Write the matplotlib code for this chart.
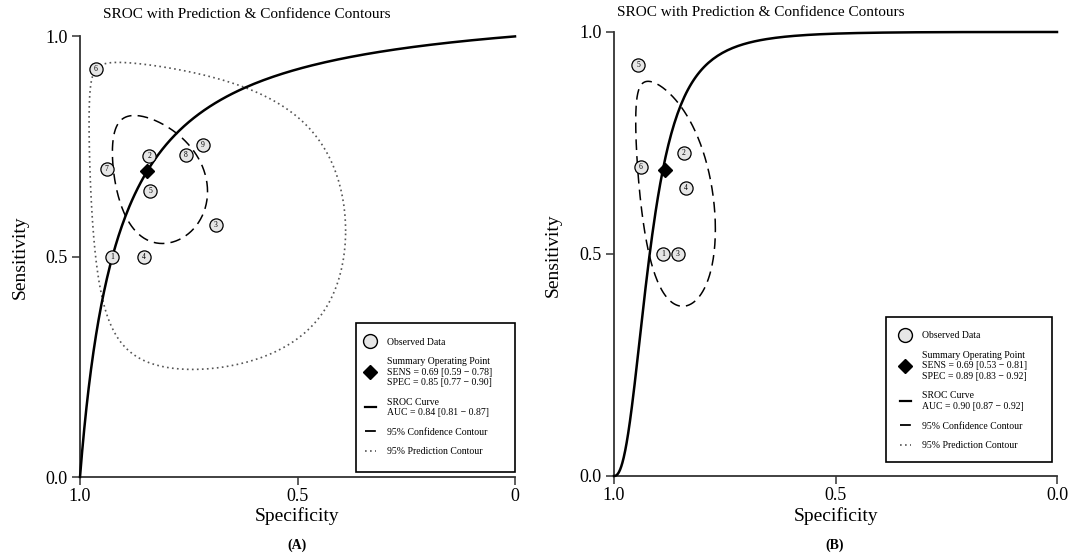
import numpy as np
import matplotlib
matplotlib.use("Agg")
import matplotlib.pyplot as plt
from matplotlib.lines import Line2D
from matplotlib.patches import Rectangle

plt.rcParams["font.family"] = ["Liberation Serif", "DejaVu Serif"]

# ---- Panel A: observed studies (specificity, sensitivity) ----
study_ids_a = [1, 2, 3, 4, 5, 6, 7, 8, 9]
spec_a = [0.926, 0.841, 0.688, 0.853, 0.838, 0.964, 0.939, 0.757, 0.718]
sens_a = [0.500, 0.728, 0.572, 0.500, 0.650, 0.927, 0.699, 0.730, 0.753]
summary_a = (0.845, 0.695)          # spec, sens
sroc_a = (2.52, 1.0)                # logit(sens) = a + b * logit(1 - spec)
center_a = (-1.70, 0.82)            # logit(1 - spec), logit(sens)
conf_half_a = (0.82, 0.70)
pred_half_a = (2.15, 1.95)
rho_a = -0.3
labels_a = [
    "Observed Data",
    "Summary Operating Point\nSENS = 0.69 [0.59 \u2212 0.78]\nSPEC = 0.85 [0.77 \u2212 0.90]",
    "SROC Curve\nAUC = 0.84 [0.81 \u2212 0.87]",
    "95% Confidence Contour",
    "95% Prediction Contour",
]

# ---- Panel B ----
study_ids_b = [1, 2, 3, 4, 5, 6]
spec_b = [0.889, 0.842, 0.856, 0.838, 0.945, 0.939]
sens_b = [0.500, 0.727, 0.500, 0.648, 0.926, 0.697]
summary_b = (0.885, 0.689)
sroc_b = (5.6, 2.3)
center_b = (-2.09, 0.80)
conf_half_b = (0.875, 1.28)
rho_b = -0.45
labels_b = [
    "Observed Data",
    "Summary Operating Point\nSENS = 0.69 [0.53 \u2212 0.81]\nSPEC = 0.89 [0.83 \u2212 0.92]",
    "SROC Curve\nAUC = 0.90 [0.87 \u2212 0.92]",
    "95% Confidence Contour",
    "95% Prediction Contour",
]

x_ticklabels_a = ["1.0", "0.5", "0"]
x_ticklabels_b = ["1.0", "0.5", "0.0"]

SPINE = "#333333"
FILL = "#e6e6e6"


def invlogit(z):
    return 1.0 / (1.0 + np.exp(-z))


def sroc_curve(params):
    z = np.linspace(-12, 12, 800)
    a, b = params
    return 1 - invlogit(z), invlogit(a + b * z)


def contour(center, half, rho, n=300):
    t = np.linspace(0, 2 * np.pi, n)
    lx = center[0] + half[0] * np.cos(t)
    ly = center[1] + half[1] * (rho * np.cos(t) + np.sqrt(1 - rho ** 2) * np.sin(t))
    return 1 - invlogit(lx), invlogit(ly)


def draw_panel(ax, ids, spec, sens, summary, sroc, center, conf_half, rho,
               pred_half, labels, xticklabels, box, anchor):
    x, y = sroc_curve(sroc)
    ax.plot(x, y, color="black", lw=1.8, clip_on=False, zorder=3)
    cx, cy = contour(center, conf_half, rho)
    ax.plot(cx, cy, color="black", lw=1.1, ls=(0, (7, 4)), zorder=2)
    if pred_half is not None:
        px, py = contour(center, pred_half, rho)
        ax.plot(px, py, color="#555555", lw=1.2, ls=(0, (1, 2)), zorder=2)
    ax.plot(spec, sens, ls="none", marker="o", ms=9.5, mfc=FILL, mec="black",
            mew=0.9, zorder=4)
    for i, sx, sy in zip(ids, spec, sens):
        ax.text(sx, sy, str(i), fontsize=5.5, ha="center", va="center", zorder=5)
    ax.plot([summary[0]], [summary[1]], ls="none", marker="D", ms=7,
            color="black", zorder=6)

    ax.set_xlim(1, 0)
    ax.set_ylim(0, 1)
    ax.set_xticks([1.0, 0.5, 0.0])
    ax.set_xticklabels(xticklabels)
    ax.set_yticks([0.0, 0.5, 1.0])
    ax.set_yticklabels(["0.0", "0.5", "1.0"])
    for side in ("top", "right"):
        ax.spines[side].set_visible(False)
    for side in ("left", "bottom"):
        ax.spines[side].set_color(SPINE)
        ax.spines[side].set_linewidth(1.3)
    ax.tick_params(axis="both", length=6, width=1.1, color=SPINE, labelsize=13)
    ax.tick_params(axis="x", pad=2)
    ax.tick_params(axis="y", pad=3)

    # legend frame drawn separately so the padding can be uneven like the original
    ax.add_patch(Rectangle(box[:2], box[2], box[3], transform=ax.transAxes,
                           fc="white", ec="black", lw=1.2, clip_on=False, zorder=7))
    handles = [
        Line2D([], [], ls="none", marker="o", ms=10, mfc=FILL, mec="black", mew=1.0),
        Line2D([], [], ls="none", marker="D", ms=7, color="black"),
        Line2D([], [], color="black", lw=1.6),
        Line2D([], [], color="black", lw=1.3, ls=(0, (6, 3))),
        Line2D([], [], color="#555555", lw=1.2, ls=(0, (1, 2))),
    ]
    leg = ax.legend(handles, labels, loc="upper left", bbox_to_anchor=anchor,
                    borderaxespad=0, borderpad=0, fontsize=7, frameon=False,
                    handlelength=1.1, handletextpad=1.15, labelspacing=1.1)
    leg.set_zorder(8)


fig = plt.figure(figsize=(10.73, 5.56), dpi=100)
ax_a = fig.add_axes([80 / 1073, 79 / 556, 435 / 1073, 440.6 / 556])
ax_b = fig.add_axes([614 / 1073, 80 / 556, 443 / 1073, 444 / 556])

draw_panel(ax_a, study_ids_a, spec_a, sens_a, summary_a, sroc_a, center_a,
           conf_half_a, rho_a, pred_half_a, labels_a, x_ticklabels_a,
           (0.6345, 0.0113, 0.3655, 0.3382), (0.655, 0.3166))
draw_panel(ax_b, study_ids_b, spec_b, sens_b, summary_b, sroc_b, center_b,
           conf_half_b, rho_b, None, labels_b, x_ticklabels_b,
           (0.614, 0.0315, 0.3747, 0.3266), (0.6456, 0.326))

title = "SROC with Prediction & Confidence Contours"
fig.text(247 / 1073, 1 - 14 / 556, title, fontsize=11, ha="center", va="center")
fig.text(761 / 1073, 1 - 12 / 556, title, fontsize=11, ha="center", va="center")

fig.text(20 / 1073, 1 - 257 / 556, "Sensitivity", fontsize=14, rotation=90,
         ha="center", va="center")
fig.text(553 / 1073, 1 - 255 / 556, "Sensitivity", fontsize=14, rotation=90,
         ha="center", va="center")
fig.text(297 / 1073, 1 - 516 / 556, "Specificity", fontsize=14, ha="center", va="center")
fig.text(836 / 1073, 1 - 516 / 556, "Specificity", fontsize=14, ha="center", va="center")
fig.text(297 / 1073, 1 - 545 / 556, "(A)", fontsize=10, fontweight="bold",
         ha="center", va="center")
fig.text(835 / 1073, 1 - 545 / 556, "(B)", fontsize=10, fontweight="bold",
         ha="center", va="center")

fig.savefig("out.png", dpi=100, facecolor="white")
